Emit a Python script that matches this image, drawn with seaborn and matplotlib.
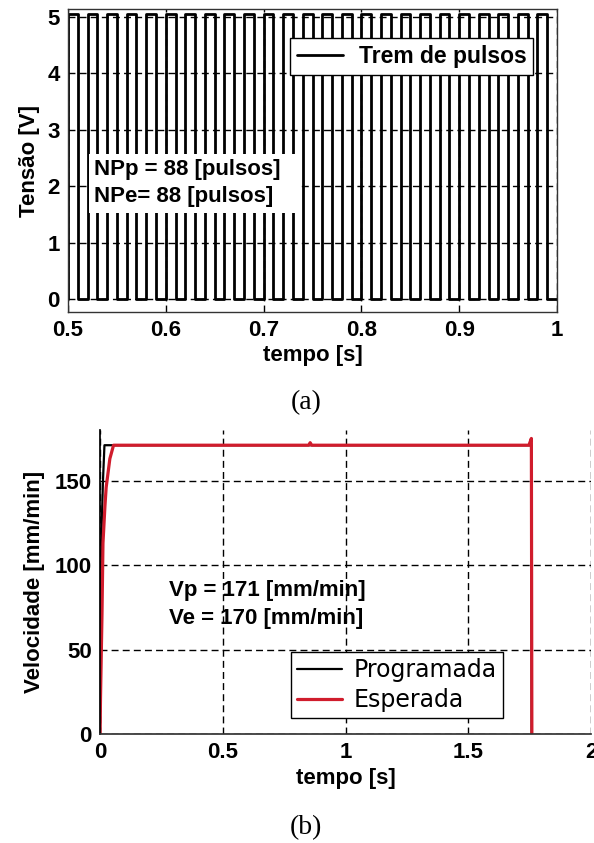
import numpy as np
import pandas as pd
import seaborn as sns
import matplotlib.pyplot as plt

# (a) pulse train: rising edges [s], pulse width [s], levels [V]
pulse_rise = [0.50, 0.52, 0.54, 0.56, 0.58, 0.60, 0.62, 0.64, 0.66, 0.68,
              0.70, 0.72, 0.74, 0.76, 0.78, 0.80, 0.82, 0.84, 0.86, 0.88,
              0.90, 0.92, 0.94, 0.96, 0.98]
pulse_width = 0.01
pulse_high = 5.05
pulse_low = 0.0

# (b) velocity profiles [mm/min]
t_prog = [0.0, 0.006, 0.012, 0.018, 1.757, 1.758]
v_prog = [0.0, 120.0, 150.0, 171.0, 171.0, 0.0]
t_esp = [0.0, 0.002, 0.008, 0.012, 0.020, 0.025, 0.040, 0.055,
         0.850, 0.856, 0.862, 1.747, 1.757, 1.759]
v_esp = [0.0, 22.0, 71.0, 113.0, 135.0, 146.0, 163.0, 171.0,
         171.0, 172.5, 171.0, 171.0, 175.0, 0.0]

x_ticks_a = [0.5, 0.6, 0.7, 0.8, 0.9, 1.0]
x_labels_a = ["0.5", "0.6", "0.7", "0.8", "0.9", "1"]
y_ticks_a = [0, 1, 2, 3, 4, 5]
x_ticks_b = [0, 0.5, 1.0, 1.5, 2.0]
x_labels_b = ["0", "0.5", "1", "1.5", "2"]
y_ticks_b = [0, 50, 100, 150]

# step vertices of the pulse train
px, py = [], []
for r in pulse_rise:
    px += [r, r, r + pulse_width, r + pulse_width]
    py += [pulse_low, pulse_high, pulse_high, pulse_low]
px.append(1.0)
py.append(pulse_low)
pulses = pd.DataFrame({"t": px, "v": py})
prog = pd.DataFrame({"t": t_prog, "v": v_prog})
esp = pd.DataFrame({"t": t_esp, "v": v_esp})

sns.set_theme(style="white")
plt.rcParams["font.family"] = ["Liberation Sans", "DejaVu Sans"]
plt.rcParams["font.weight"] = "bold"
plt.rcParams["axes.labelweight"] = "bold"
plt.rcParams["text.color"] = "black"
plt.rcParams["axes.labelcolor"] = "black"
plt.rcParams["xtick.color"] = "black"
plt.rcParams["ytick.color"] = "black"

fig = plt.figure(figsize=(5.94, 8.43), dpi=100)
ax1 = fig.add_axes([0.1145, 0.6299, 0.8232, 0.359])
ax2 = fig.add_axes([0.1684, 0.1293, 0.8266, 0.3606])

grid_kw = dict(color="black", linestyle=(0, (5, 3)), linewidth=1.0)

# ---- (a)
sns.lineplot(data=pulses, x="t", y="v", ax=ax1, color="black", linewidth=2.0,
             sort=False, estimator=None, label="Trem de pulsos")
ax1.set_xlim(0.5, 1.0)
ax1.set_ylim(-0.23, 5.13)
ax1.set_xticks(x_ticks_a)
ax1.set_xticklabels(x_labels_a)
ax1.set_yticks(y_ticks_a)
ax1.grid(True, **grid_kw)
ax1.set_xlabel("tempo [s]", fontsize=16, labelpad=3)
ax1.set_ylabel("Tensão [V]", fontsize=16, labelpad=5)
ax1.tick_params(direction="in", length=5, labelsize=16, pad=6, color="#333333")
for s in ax1.spines.values():
    s.set_color("#333333")
    s.set_linewidth(1.0)
ax1.text(0.527, 2.05, "NPp = 88 [pulsos]  \nNPe= 88 [pulsos]  ", fontsize=16,
         va="center", ha="left", linespacing=1.35,
         bbox=dict(facecolor="white", edgecolor="none", pad=4))
ax1.legend(loc="upper left", bbox_to_anchor=(0.488, 0.955),
           bbox_transform=fig.transFigure, fancybox=False, framealpha=1,
           edgecolor="black", borderaxespad=0, fontsize=16.5,
           handlelength=2.0, handletextpad=0.7, borderpad=0.3)

# ---- (b)
sns.lineplot(data=prog, x="t", y="v", ax=ax2, color="black", linewidth=1.6,
             sort=False, estimator=None, label="Programada")
sns.lineplot(data=esp, x="t", y="v", ax=ax2, color="#d01c2c", linewidth=2.3,
             sort=False, estimator=None, label="Esperada")
ax2.set_xlim(0, 2)
ax2.set_ylim(0, 180)
ax2.set_xticks(x_ticks_b)
ax2.set_xticklabels(x_labels_b)
ax2.set_yticks(y_ticks_b)
ax2.grid(True, **grid_kw)
ax2.set_xlabel("tempo [s]", fontsize=16, labelpad=3)
ax2.set_ylabel("Velocidade [mm/min]", fontsize=16, labelpad=7)
ax2.tick_params(direction="in", length=5, labelsize=16, pad=6, color="#333333")
ax2.spines["top"].set_visible(False)
ax2.spines["right"].set_visible(False)
ax2.spines["left"].set_color("black")
ax2.spines["bottom"].set_color("#333333")
ax2.text(0.28, 85, "Vp = 171 [mm/min]", fontsize=16, va="center", ha="left")
ax2.text(0.28, 68.5, "Ve = 170 [mm/min]", fontsize=16, va="center", ha="left")
ax2.legend(loc="upper left", bbox_to_anchor=(0.49, 1 - 652 / 843),
           bbox_transform=fig.transFigure, fancybox=False, framealpha=1,
           edgecolor="black", borderaxespad=0,
           prop={"family": "DejaVu Sans", "weight": "normal", "size": 17},
           handlelength=1.9, handletextpad=0.5, borderpad=0.25, labelspacing=0.25)

fig.text(0.515, 1 - 403 / 843, "(a)", ha="center", va="center",
         fontsize=20, fontweight="normal", family="Liberation Serif")
fig.text(0.515, 1 - 828 / 843, "(b)", ha="center", va="center",
         fontsize=20, fontweight="normal", family="Liberation Serif")

fig.savefig("out.png", dpi=100)
